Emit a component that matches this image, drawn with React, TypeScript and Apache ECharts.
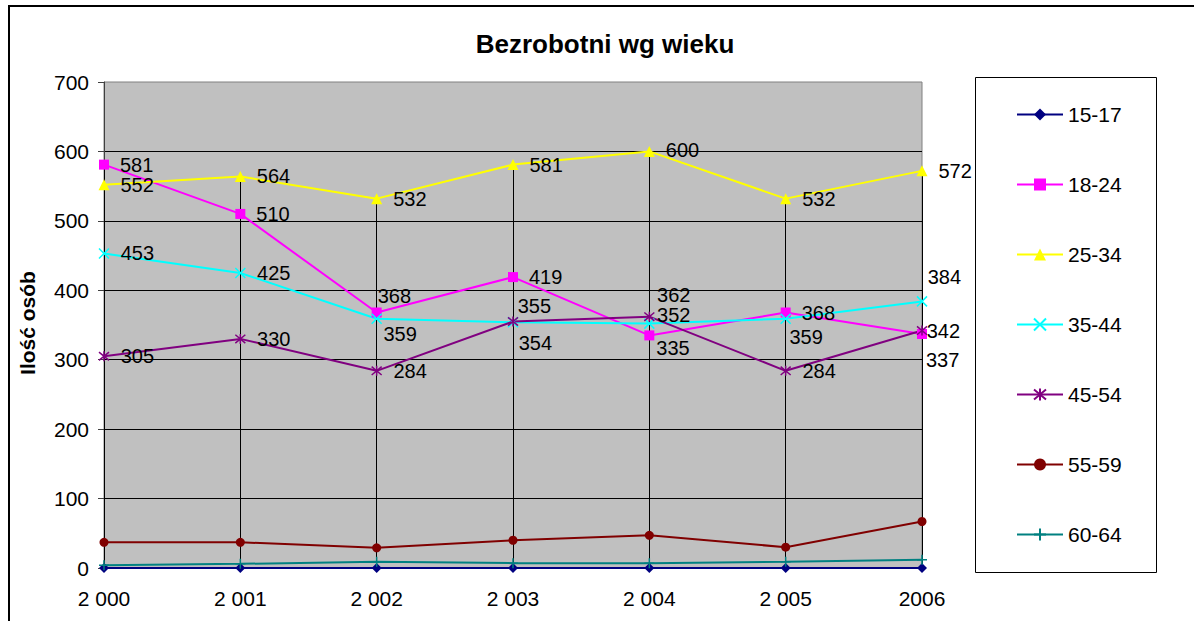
import React, { useEffect, useRef } from "react";
import * as echarts from "echarts";

const categories = ["2 000", "2 001", "2 002", "2 003", "2 004", "2 005", "2006"];
const seriesNames = ["15-17", "18-24", "25-34", "35-44", "45-54", "55-59", "60-64"];
const v15_17 = [0, 0, 0, 0, 0, 0, 0];
const v18_24 = [581, 510, 368, 419, 335, 368, 337];
const v25_34 = [552, 564, 532, 581, 600, 532, 572];
const v35_44 = [453, 425, 359, 354, 352, 359, 384];
const v45_54 = [305, 330, 284, 355, 362, 284, 342];
const v55_59 = [37, 37, 29, 40, 47, 30, 67];
const v60_64 = [4, 6, 9, 7, 7, 9, 12];
const yMin = 0;
const yMax = 700;
const yStep = 100;

const FONT = "'Liberation Sans', Arial, sans-serif";

// label nudges (styling only)
const labelNudge: Record<string, number[][] | null> = {
  "15-17": null,
  "18-24": [[0, 0], [0, 0], [-15, -17], [0, 0], [-9, 13], [0, 0], [-12, 26]],
  "25-34": [[0, 0], [0, 0], [0, 0], [0, 0], [0, -1], [0, 0], [0, 0]],
  "35-44": [[0, 0], [0, 0], [-10, 15], [-11, 21], [-9, -9], [-13, 18], [-11, -24]],
  "45-54": [[0, 0], [0, 0], [0, 0], [-12, -16], [-9, -22], [0, 0], [-12, 0]],
  "55-59": null,
  "60-64": null,
};

const styles: Record<string, any> = {
  "15-17": { color: "#000080", symbol: "diamond", size: 10, bw: 0 },
  "18-24": { color: "#FF00FF", symbol: "rect", size: 10, bw: 0 },
  "25-34": { color: "#FFFF00", symbol: "triangle", size: 11, bw: 0 },
  "35-44": { color: "#00FFFF", symbol: "path://M0,0L10,10M10,0L0,10", size: 10, bw: 1.5 },
  "45-54": { color: "#800080", symbol: "path://M0,0L10,10M10,0L0,10M5,-1L5,11", size: 10, bw: 1.5 },
  "55-59": { color: "#800000", symbol: "circle", size: 9, bw: 0 },
  "60-64": { color: "#008080", symbol: "path://M5,0L5,10M0,5L10,5", size: 10, bw: 1.5 },
};

export default function App() {
  const ref = useRef<HTMLDivElement>(null);
  useEffect(() => {
    if (!ref.current) return;
    const chart = echarts.init(ref.current, null, { renderer: "svg" });
    const values = [v15_17, v18_24, v25_34, v35_44, v45_54, v55_59, v60_64];
    const dropTops = categories.map((_, i) => Math.max(...values.map((s) => s[i])));

    const series: any[] = seriesNames.map((name, si) => {
      const st = styles[name];
      const nudge = labelNudge[name];
      const data = values[si].map((v, i) =>
        nudge ? { value: v, label: { offset: nudge[i] } } : v
      );
      const s: any = {
        name,
        type: "line",
        data,
        symbol: st.symbol,
        symbolSize: st.size,
        showAllSymbol: true,
        lineStyle: { color: st.color, width: 2 },
        itemStyle: { color: st.color, borderColor: st.color, borderWidth: st.bw },
        emphasis: { disabled: true },
        label: nudge
          ? {
              show: true,
              position: "right",
              distance: 11,
              color: "#000",
              fontSize: 20,
              fontFamily: FONT,
            }
          : { show: false },
        z: 3,
      };
      if (si === 0) {
        s.markLine = {
          silent: true,
          symbol: "none",
          z: 1,
          animation: false,
          label: { show: false },
          emphasis: { disabled: true },
          lineStyle: { color: "#000", width: 1, type: "solid" },
          data: categories.map((_, i) => [
            { coord: [i, dropTops[i]] },
            { coord: [i, 0] },
          ]),
        };
      }
      return s;
    });

    chart.setOption({
      animation: false,
      backgroundColor: "#fff",
      title: {
        text: "Bezrobotni wg wieku",
        left: 600,
        textAlign: "center",
        top: 26,
        textStyle: { fontFamily: FONT, fontWeight: "bold", fontSize: 26, color: "#000" },
      },
      graphic: [
        {
          type: "rect",
          z: 0,
          shape: { x: 9, y: 6, width: 1400, height: 800 },
          style: { fill: "none", stroke: "#000", lineWidth: 2 },
        },
        {
          type: "rect",
          z: 0,
          shape: { x: 975.5, y: 77.5, width: 181, height: 495 },
          style: { fill: "#fff", stroke: "#000", lineWidth: 1 },
        },
        {
          type: "text",
          x: 27,
          y: 323,
          rotation: Math.PI / 2,
          style: {
            text: "Ilość osób",
            fontFamily: FONT,
            fontWeight: "bold",
            fontSize: 21,
            fill: "#000",
            align: "center",
            verticalAlign: "middle",
          },
        },
      ],
      legend: {
        orient: "vertical",
        left: 1016,
        top: 104,
        padding: 0,
        itemWidth: 46,
        itemHeight: 15,
        itemGap: 49,
        data: seriesNames,
        textStyle: { fontFamily: FONT, fontSize: 21, color: "#000", lineHeight: 21 },
      },
      grid: {
        left: 104,
        top: 82,
        width: 818,
        height: 486,
        show: true,
        backgroundColor: "#C0C0C0",
        borderColor: "#808080",
        borderWidth: 1,
      },
      xAxis: {
        type: "category",
        data: categories,
        boundaryGap: false,
        axisLine: { show: true, lineStyle: { color: "#000", width: 1 } },
        axisTick: { show: false },
        axisLabel: { fontFamily: FONT, fontSize: 21, color: "#000", margin: 20 },
        splitLine: { show: false },
      },
      yAxis: {
        type: "value",
        min: yMin,
        max: yMax,
        interval: yStep,
        axisLine: { show: true, lineStyle: { color: "#404040", width: 1 } },
        axisTick: { show: true, inside: false, length: 6, lineStyle: { color: "#404040" } },
        axisLabel: { fontFamily: FONT, fontSize: 21, color: "#000", margin: 15 },
        splitLine: { show: true, showMaxLine: false, lineStyle: { color: "#000", width: 1 } },
      },
      series,
    });
    return () => chart.dispose();
  }, []);
  return (
    <div
      ref={ref}
      style={{ position: "fixed", left: 0, top: 0, width: 1194, height: 621, background: "#fff" }}
    />
  );
}
